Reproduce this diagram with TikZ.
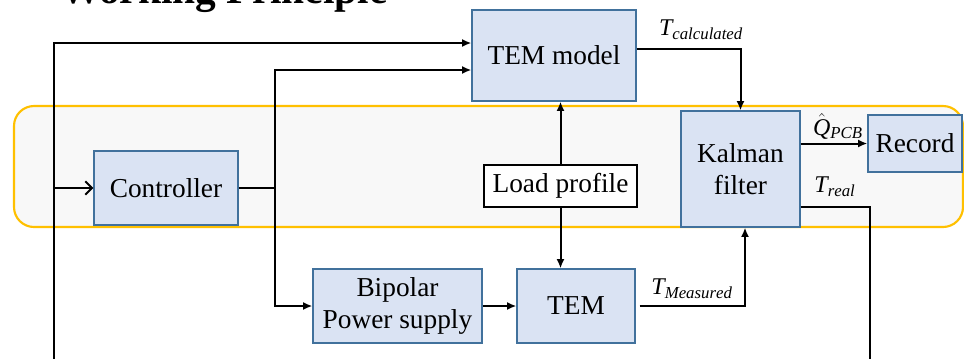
\documentclass[tikz,border=0pt]{standalone}
\usepackage{fontspec}
\setmainfont{Liberation Serif}
\newfontfamily\blockfont{Liberation Serif}
\usetikzlibrary{arrows.meta}

\definecolor{boxfill}{HTML}{DAE3F3}
\definecolor{boxline}{HTML}{41719C}
\definecolor{framegold}{HTML}{FFC000}
\definecolor{framefill}{HTML}{F8F8F8}

\tikzset{
  block/.style={draw=boxline, line width=0.9pt, fill=boxfill, align=center,
    inner sep=0pt, font=\blockfont\fontsize{20.5}{24}\selectfont},
  plainbox/.style={draw=black, line width=0.9pt, fill=white, align=center,
    inner sep=0pt, font=\blockfont\fontsize{20.5}{24}\selectfont},
  wire/.style={line width=1.5pt, draw=black},
  arr/.style={wire, -{Latex[length=7pt,width=6pt]}},
  openarr/.style={wire, -{Straight Barb[length=5pt,width=10pt]}},
  sig/.style={font=\blockfont\fontsize{18}{20}\selectfont, inner sep=0pt},
}

\begin{document}
\begin{tikzpicture}[x=0.75pt, y=-0.75pt]
\useasboundingbox (0,0) rectangle (964,358);

% heading
\node[anchor=base west, inner sep=0pt, font=\blockfont\fontsize{31}{36}\selectfont\bfseries]
  (title) at (60,3) {Working Principle};

% highlighted band of the estimation loop
\draw[draw=framegold, fill=framefill, line width=1.6pt, rounded corners=15pt]
  (14,106) rectangle (963,227);

% blocks
\node[block, minimum width=108pt, minimum height=55.5pt] (ctrl) at (166,188) {Controller};
\node[block, minimum width=123pt, minimum height=68.25pt] (tm) at (554,55.5) {TEM model};
\node[block, minimum width=89.25pt, minimum height=87pt] (kal) at (740.5,169) {Kalman\\filter};
\node[block, minimum width=70.5pt, minimum height=42.75pt] (rec) at (915,143.5) {Record};
\node[plainbox, minimum width=114.75pt, minimum height=31.5pt] (load) at (560.5,186) {Load profile};
\node[block, minimum width=126.75pt, minimum height=55.5pt] (bps) at (397.5,306) {Bipolar\\Power supply};
\node[block, minimum width=88.5pt, minimum height=55.5pt] (tem) at (576,306) {TEM};

% helper coordinates for the routing
\coordinate (fbL) at (54,362);
\coordinate (fbR) at (870,362);
\coordinate (split) at (275,0);
\coordinate (yA) at (0,43);
\coordinate (yB) at (0,70);
\coordinate (yC) at (0,49);
\coordinate (yD) at (0,207);
\coordinate (kx) at (745,0);

% feedback line into the controller and the TEM model
\draw[arr] (fbL) |- (tm.west |- yA);
\draw[openarr] (fbL |- ctrl.west) -- (ctrl.west);

% controller output split
\draw[arr] (ctrl.east) -| (split |- yB) -- (tm.west |- yB);
\draw[arr] (ctrl.east -| split) |- (bps.west);

% load profile to both models
\draw[arr] (load.north) -- (load.north |- tm.south);
\draw[arr] (load.south) -- (load.south |- tem.north);

% plant chain
\draw[arr] (bps.east) -- (tem.west);
\draw[arr] ([xshift=3pt]tem.east) -| (kx |- kal.south);

% model estimate into the filter
\draw[arr] (tm.east |- yC) -| (kal.north);

% filter outputs
\draw[arr] (kal.east |- rec.west) -- (rec.west);
\draw[wire] (kal.east |- yD) -| (fbR);

% signal labels
\node[sig] (lcalc) at (701,30) {$\mathit{T}_{\mathit{calculated}}$};
\node[sig] (lmeas) at (692,289) {$\mathit{T}_{\mathit{Measured}}$};
\node[sig] (lq) at (838,126) {$\hat{\mathit{Q}}_{\mathit{PCB}}$};
\node[sig] (lreal) at (835,187) {$\mathit{T}_{\mathit{real}}$};
\end{tikzpicture}
\end{document}
